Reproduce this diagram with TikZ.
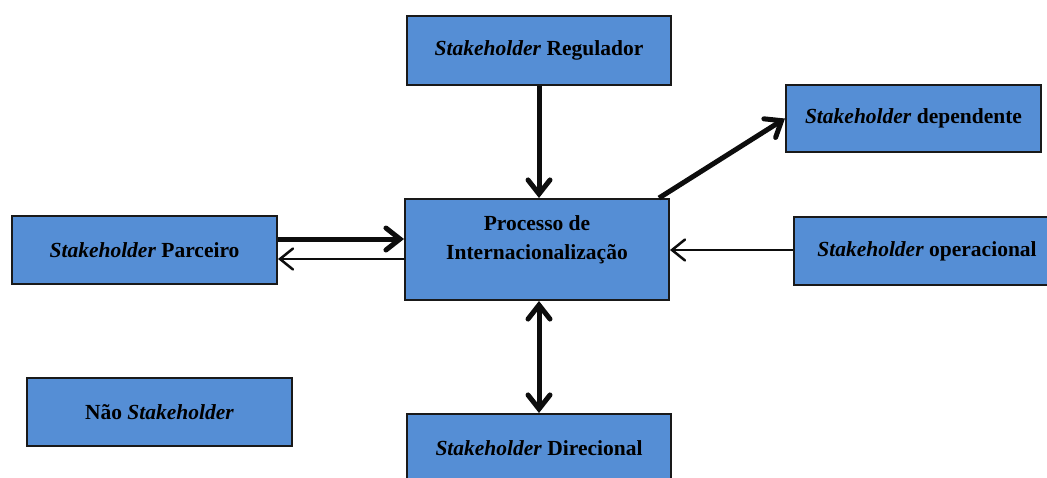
\documentclass[tikz,border=0pt]{standalone}
\usepackage{fontspec}
\setmainfont{Liberation Serif}
\usetikzlibrary{arrows.meta}
\definecolor{boxblue}{HTML}{558ED5}
\tikzset{
  sbox/.style={draw=black!90, line width=2pt, fill=boxblue, anchor=north west,
    inner sep=0pt, font=\bfseries\fontsize{21.5}{29}\selectfont, align=center},
  heavy/.style={line width=5pt, draw=black!95, -{Straight Barb[length=14pt,width=22pt,line cap=round]}},
  light/.style={line width=2.5pt, draw=black!95,
    -{Straight Barb[length=13pt,width=21pt,line cap=round]}},
}
\newcommand{\sh}{\textit{Stakeholder}}
\begin{document}
\begin{tikzpicture}[x=1pt,y=-1pt]
\useasboundingbox (0,0) rectangle (1047,477);
\begin{scope}
\clip (0,0) rectangle (1047,477);
\node[sbox, minimum width=264pt, minimum height=69pt] (reg) at (406,15) {\sh{} Regulador};
\node[sbox, minimum width=255pt, minimum height=67pt] (dep) at (785,84) {\sh{} dependente};
\node[sbox, minimum width=264pt, minimum height=101pt] (proc) at (404,198)
  {Processo de\\Internacionalização\rule[-23pt]{0pt}{0pt}};
\node[sbox, minimum width=265pt, minimum height=68pt] (par) at (11,215) {\sh{} Parceiro};
\node[sbox, minimum width=266pt, minimum height=68pt] (ope) at (793,216) {\sh{} operacional};
\node[sbox, minimum width=265pt, minimum height=68pt] (nao) at (26,377) {Não \sh};
\node[sbox, minimum width=264pt, minimum height=69pt] (dir) at (406,413) {\sh{} Direcional};
\end{scope}
% connectors
\draw[heavy] (reg.south) -- (reg.south |- proc.north);
\draw[heavy] (proc.north east) ++(-11,0) coordinate (pd) -- (dep.west);
\draw[heavy] (par.east |- 0,239) coordinate (pa) -- (proc.west |- pa);
\draw[light] (proc.west |- 0,259) coordinate (pb) -- (par.east |- pb);
\draw[light] (ope.west |- 0,250) coordinate (oa) -- (proc.east |- oa);
\draw[line width=5pt, draw=black!95, {Straight Barb[length=14pt,width=22pt,line cap=round]}-{Straight Barb[length=14pt,width=22pt,line cap=round]}]
  (reg.south |- proc.south) -- (reg.south |- dir.north);
\end{tikzpicture}
\end{document}
